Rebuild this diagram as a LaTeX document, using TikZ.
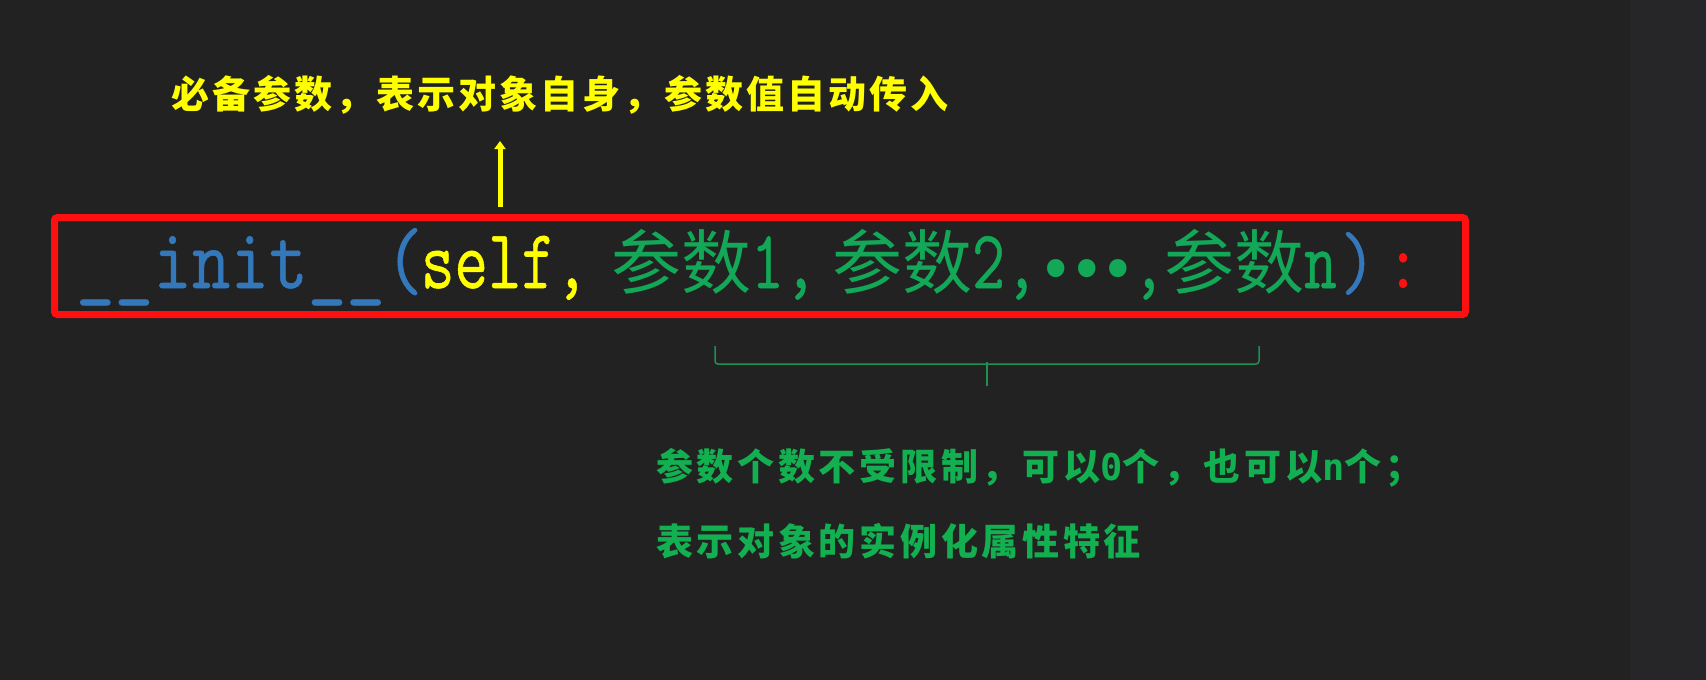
\documentclass[tikz,border=0pt]{standalone}
\usepackage{fontspec}
\usepackage{graphicx}
\usetikzlibrary{arrows.meta}
\newfontfamily\cjk{Noto Sans CJK SC}
\newfontfamily\cjkl{Noto Sans CJK SC}[LetterSpace=10]
\newfontfamily\cjkt{Noto Sans CJK SC}[LetterSpace=8]
\newfontfamily\lmtt{Latin Modern Mono}[FakeBold=0.7]
\newfontfamily\dmono{DejaVu Sans Mono}
\newcommand\codetall[2]{\scalebox{1}[#1]{#2}}
\definecolor{bgmain}{HTML}{222222}
\definecolor{bgside}{HTML}{262628}
\definecolor{codeblue}{HTML}{3478BC}
\definecolor{codeyellow}{HTML}{FFFF00}
\definecolor{codegreen}{HTML}{12A857}
\definecolor{codered}{HTML}{FF1010}
\definecolor{labelgreen}{HTML}{12B050}
\definecolor{bracegreen}{HTML}{1F8F52}
\tikzset{
  seg/.style={anchor=base west, inner sep=0pt, outer sep=0pt},
  codebox/.style={draw=codered, line width=7pt, rounded corners=3pt, inner sep=0pt},
  note/.style={inner sep=0pt, anchor=west},
}
\begin{document}
\begin{tikzpicture}[x=1pt,y=-1pt]
\fill[bgmain] (0,0) rectangle (1630,680);
\fill[bgside] (1630,0) rectangle (1706,680);
\useasboundingbox (0,0) rectangle (1706,680);

% top label and arrow
\node[inner sep=0pt, text=codeyellow, font=\cjkt\bfseries\fontsize{38}{46}\selectfont] (need) at (560,95) {必备参数，表示对象自身，参数值自动传入};
\coordinate (arrbot) at (500,207);
\coordinate (arrtop) at (500,141);
\draw[codeyellow, line width=5pt, -{Triangle[length=8pt,width=11pt]}] (arrbot) -- (arrtop);

% code box
\node[codebox, minimum width=1411pt, minimum height=97pt] (box) at (760,266) {};

% code line
\node[seg, text=codeblue, font=\lmtt\fontsize{75}{80}\selectfont] (init) at (76,288) {\codetall{1.15}{\_\_init\_\_(}};
\node[seg, text=codeyellow, font=\lmtt\fontsize{65}{70}\selectfont] (self) at (421,288) {\codetall{1.3}{self,}};
\node[seg, text=codegreen] (p1) at (611,288) {{\cjk\fontsize{70}{80}\selectfont 参数}{\lmtt\fontsize{64}{70}\selectfont\codetall{1.3}{1,}}};
\node[seg, text=codegreen] (p2) at (832,288) {{\cjk\fontsize{70}{80}\selectfont 参数}{\lmtt\fontsize{64}{70}\selectfont\codetall{1.3}{2,}}};
\node[seg, text=codegreen] (dots) at (1040,288) {\raisebox{12pt}{\cjk\bfseries\fontsize{82}{82}\selectfont …}{\lmtt\fontsize{64}{70}\selectfont\codetall{1.3}{,}}};
\node[seg, text=codegreen] (pn) at (1164,288) {{\cjk\fontsize{70}{80}\selectfont 参数}{\lmtt\fontsize{64}{70}\selectfont\codetall{1.3}{n}}};
\node[seg, text=codeblue, font=\lmtt\fontsize{70}{80}\selectfont] (close) at (1340,288) {\codetall{1.15}{)}};
\node[seg, text=codered, font=\lmtt\fontsize{70}{80}\selectfont] (colon) at (1385,288) {\codetall{1.15}{:}};

% brace
\coordinate (brl) at (715,346);
\coordinate (brr) at (1259,346);
\coordinate (brtip) at (987,386);
\draw[bracegreen, line width=1.5pt, rounded corners=3pt] (brl) -- (715,364) -- (1259,364) -- (brr);
\draw[bracegreen, line width=1.5pt] (987,362) -- (brtip);

% notes
\node[note, text=labelgreen, font=\cjkl\bfseries\fontsize{37}{44}\selectfont] (n1) at (656,468) {参数个数不受限制，可以{\dmono\bfseries 0}个，也可以{\dmono\bfseries n}个；};
\node[note, text=labelgreen, font=\cjkl\bfseries\fontsize{37}{44}\selectfont] (n2) at (656,541) {表示对象的实例化属性特征};
\end{tikzpicture}
\end{document}
